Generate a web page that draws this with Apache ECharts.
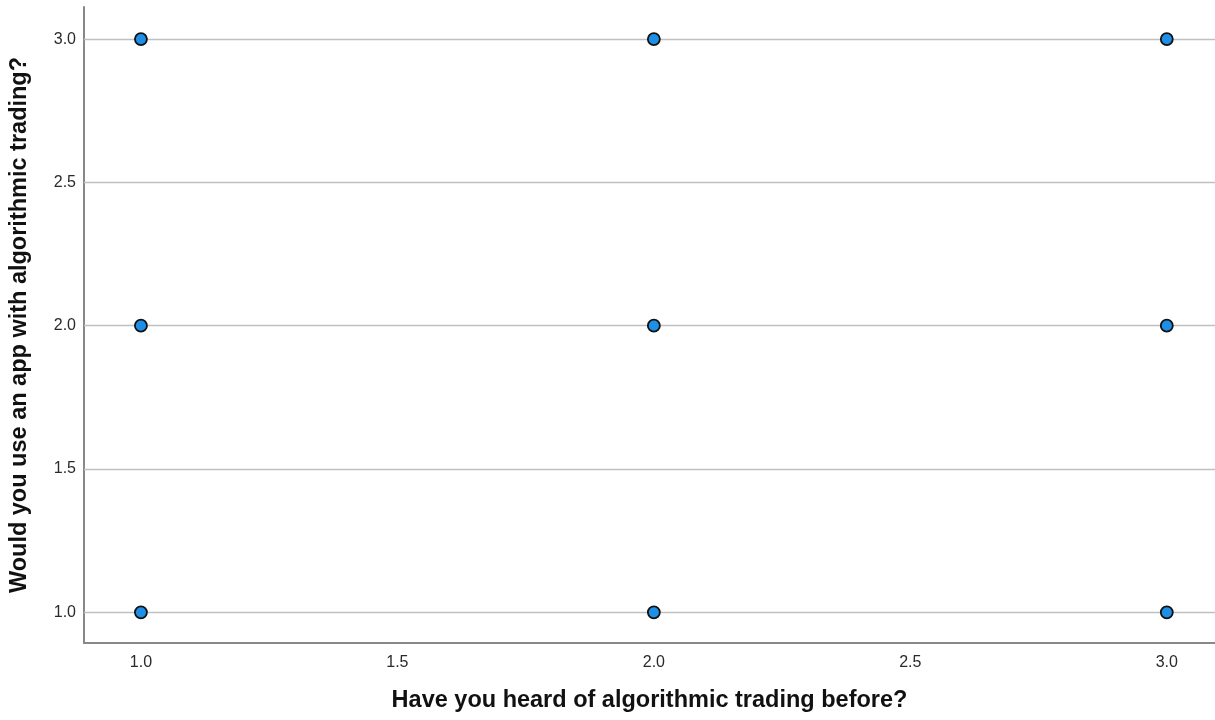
<!DOCTYPE html>
<html>
<head>
<meta charset="utf-8">
<script src="https://cdn.jsdelivr.net/npm/echarts@6/dist/echarts.min.js"></script>
<style>html,body{margin:0;padding:0;background:#fff}#c{width:1215px;height:720px}</style>
</head>
<body>
<div id="c"></div>
<script>
const xTitle = "Have you heard of algorithmic trading before?";
const yTitle = "Would you use an app with algorithmic trading?";
const heardValues = [1, 1, 1, 2, 2, 2, 3, 3, 3];
const useValues   = [1, 2, 3, 1, 2, 3, 1, 2, 3];
const xTickValues = [1.0, 1.5, 2.0, 2.5, 3.0];
const yTickValues = [1.0, 1.5, 2.0, 2.5, 3.0];

const points = heardValues.map((x, i) => [x, useValues[i]]);
const chart = echarts.init(document.getElementById('c'));
chart.setOption({
  animation: false,
  grid: { left: 83, right: 0, top: 7, bottom: 77, containLabel: false },
  xAxis: {
    type: 'value', min: 0.889, max: 3.094,
    name: xTitle, nameLocation: 'middle', nameGap: 46,
    nameTextStyle: { fontFamily: 'Liberation Sans', fontWeight: 'bold', fontSize: 23.5, color: '#111' },
    axisLine: { show: true, onZero: false, lineStyle: { color: '#888', width: 2 } },
    axisTick: { show: false, customValues: xTickValues },
    axisLabel: { customValues: xTickValues, formatter: v => v.toFixed(1), fontFamily: 'Liberation Sans', fontSize: 16, color: '#2a2a2a', margin: 12 },
    splitLine: { show: false }
  },
  yAxis: {
    type: 'value', min: 0.893, max: 3.112,
    name: yTitle, nameLocation: 'middle', nameGap: 52,
    nameTextStyle: { fontFamily: 'Liberation Sans', fontWeight: 'bold', fontSize: 23.5, color: '#111' },
    axisLine: { show: true, onZero: false, lineStyle: { color: '#888', width: 2 } },
    axisTick: { show: false, customValues: yTickValues },
    axisLabel: { customValues: yTickValues, formatter: v => v.toFixed(1), fontFamily: 'Liberation Sans', fontSize: 16, color: '#2a2a2a', margin: 8 },
    splitLine: { show: false }
  },
  series: [{
    type: 'scatter',
    data: points,
    symbol: 'circle',
    symbolSize: 12,
    itemStyle: { color: '#1e8fe6', borderColor: '#111', borderWidth: 1.8, opacity: 1 },
    markLine: {
      silent: true, symbol: 'none', label: { show: false },
      lineStyle: { color: '#c0c0c0', width: 1.3, type: 'solid' },
      data: yTickValues.map(v => ({ yAxis: v }))
    },
    z: 5
  }]
});
</script>
</body>
</html>
